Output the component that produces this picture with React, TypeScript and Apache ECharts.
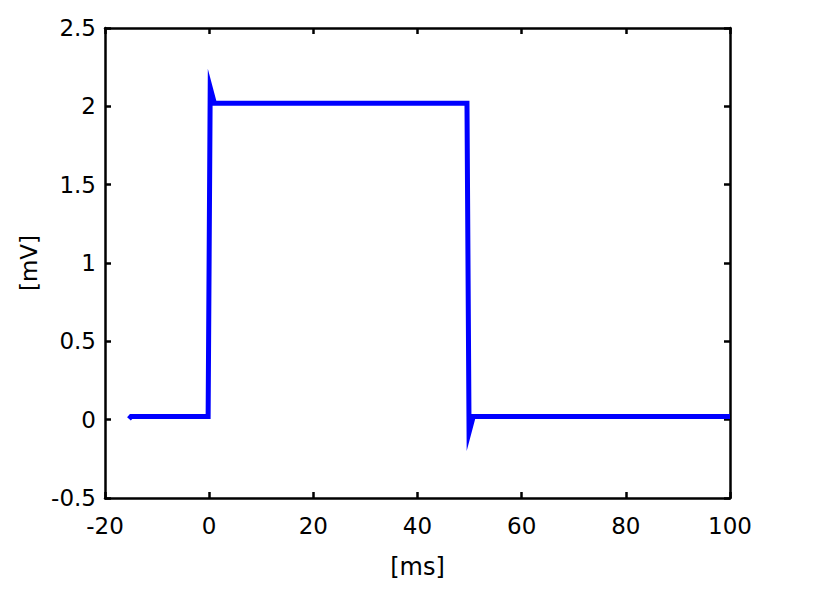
import React, { useEffect, useRef } from "react";
import * as echarts from "echarts";

// Time samples [ms] and corresponding voltage [mV]
const times: number[] = [-15.4, -15, -0.2, 0.2, 1.0, 49.5, 49.9, 50.7, 100];
const values: number[] = [0.005, 0.02, 0.02, 2.12, 2.02, 2.02, -0.08, 0.02, 0.02];

const xTicks = { min: -20, max: 100, interval: 20 };
const yTicks = { min: -0.5, max: 2.5, interval: 0.5 };
const xName = "[ms]";
const yName = "[mV]";

const FONT = "'DejaVu Sans', 'Liberation Sans', Arial, sans-serif";

export default function App() {
  const ref = useRef<HTMLDivElement | null>(null);

  useEffect(() => {
    if (!ref.current) return;
    const chart = echarts.init(ref.current, undefined, { renderer: "svg" });
    const data = times.map((t, i) => [t, values[i]]);
    const axisLine = { show: true, onZero: false, lineStyle: { color: "#000", width: 2.5 } };
    const tick = { show: true, inside: true, length: 6, lineStyle: { color: "#000", width: 2.5 } };
    const label = { color: "#000", fontSize: 23, fontFamily: FONT };
    chart.setOption({
      animation: false,
      backgroundColor: "#fff",
      grid: { left: 105, right: 96, top: 28, bottom: 97, containLabel: false },
      xAxis: [
        {
          type: "value",
          min: xTicks.min,
          max: xTicks.max,
          interval: xTicks.interval,
          position: "bottom",
          axisLine,
          axisTick: tick,
          splitLine: { show: false },
          axisLabel: { ...label, margin: 16 },
          name: xName,
          nameLocation: "middle",
          nameGap: 57,
          nameTextStyle: { color: "#000", fontSize: 24, fontFamily: FONT },
        },
        {
          type: "value",
          min: xTicks.min,
          max: xTicks.max,
          interval: xTicks.interval,
          position: "top",
          axisLine,
          axisTick: tick,
          splitLine: { show: false },
          axisLabel: { show: false },
        },
      ],
      yAxis: [
        {
          type: "value",
          min: yTicks.min,
          max: yTicks.max,
          interval: yTicks.interval,
          position: "left",
          axisLine,
          axisTick: tick,
          splitLine: { show: false },
          axisLabel: { ...label, margin: 9 },
          name: yName,
          nameLocation: "middle",
          nameRotate: 90,
          nameGap: 63,
          nameTextStyle: { color: "#000", fontSize: 23, fontFamily: FONT },
        },
        {
          type: "value",
          min: yTicks.min,
          max: yTicks.max,
          interval: yTicks.interval,
          position: "right",
          axisLine,
          axisTick: tick,
          splitLine: { show: false },
          axisLabel: { show: false },
        },
      ],
      series: [
        {
          type: "line",
          data,
          xAxisIndex: 0,
          yAxisIndex: 0,
          showSymbol: false,
          symbol: "none",
          clip: false,
          lineStyle: { color: "#0000ff", width: 5, join: "miter", miterLimit: 20, cap: "butt" },
        },
      ],
    });
    return () => chart.dispose();
  }, []);

  return (
    <div
      ref={ref}
      style={{ position: "fixed", left: 0, top: 0, width: 826, height: 595 }}
    />
  );
}
